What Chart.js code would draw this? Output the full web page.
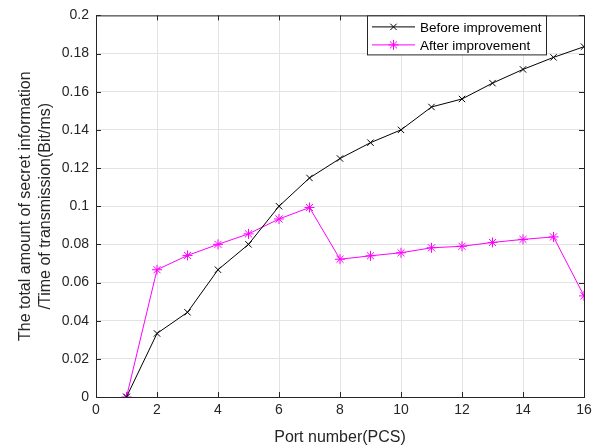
<!DOCTYPE html>
<html lang="en">
<head>
  <meta charset="UTF-8" />
  <title>Secret information rate vs port number</title>
  <script src="https://cdn.jsdelivr.net/npm/chart.js"></script>
  <style>
    * { box-sizing: border-box; }
    html, body { margin: 0; padding: 0; background: #fff; }
    #wrap { width: 599px; height: 447px; }
  </style>
</head>
<body>
  <div id="wrap">
    <canvas id="rateChart" width="599" height="447"></canvas>
  </div>

  <script>
    const ports = [1, 2, 3, 4, 5, 6, 7, 8, 9, 10, 11, 12, 13, 14, 15, 16];
    const beforeImprovement = [0, 0.0333, 0.0444, 0.0667, 0.08, 0.1, 0.1148, 0.125, 0.1333, 0.14, 0.152, 0.1562, 0.1645, 0.1717, 0.178, 0.1836];
    const afterImprovement = [0, 0.0667, 0.0742, 0.08, 0.0855, 0.0933, 0.0993, 0.0722, 0.074, 0.0756, 0.0782, 0.079, 0.081, 0.0826, 0.0839, 0.053];
    const xTicks = [0, 2, 4, 6, 8, 10, 12, 14, 16];
    const yTicks = [0, 0.02, 0.04, 0.06, 0.08, 0.1, 0.12, 0.14, 0.16, 0.18, 0.2];

    const axisColor = "#262626";
    const fontFamily = "Arial, 'Liberation Sans', Helvetica, sans-serif";

    // axis box with inward tick marks on every side, plus the legend box
    const boxPlugin = {
      id: "boxPlugin",
      afterDraw(chart) {
        const { ctx, chartArea: a, scales } = chart;
        ctx.save();
        ctx.strokeStyle = axisColor;
        ctx.lineWidth = 1;
        ctx.strokeRect(a.left + 0.5, a.top + 0.5, a.right - a.left, a.bottom - a.top);
        const len = 5;
        ctx.beginPath();
        xTicks.forEach(v => {
          const x = Math.round(scales.x.getPixelForValue(v)) + 0.5;
          ctx.moveTo(x, a.bottom); ctx.lineTo(x, a.bottom - len);
          ctx.moveTo(x, a.top); ctx.lineTo(x, a.top + len);
        });
        yTicks.forEach(v => {
          const y = Math.round(scales.y.getPixelForValue(v)) + 0.5;
          ctx.moveTo(a.left, y); ctx.lineTo(a.left + len, y);
          ctx.moveTo(a.right, y); ctx.lineTo(a.right - len, y);
        });
        ctx.stroke();

        // legend
        const lx = 367, ly = a.top + 0.5, lw = 179, lh = 39;
        ctx.fillStyle = "#fff";
        ctx.fillRect(lx, ly, lw, lh);
        ctx.strokeStyle = axisColor;
        ctx.strokeRect(lx + 0.5, ly, lw, lh);
        ctx.font = "13.5px " + fontFamily;
        ctx.textBaseline = "middle";
        chart.data.datasets.forEach((ds, i) => {
          const y = ly + 11 + i * 18;
          ctx.strokeStyle = ds.borderColor;
          ctx.fillStyle = ds.borderColor;
          ctx.beginPath();
          ctx.moveTo(372, y); ctx.lineTo(415, y);
          ctx.stroke();
          Chart.helpers.drawPoint(ctx, {
            pointStyle: ds.pointStyle, radius: ds.pointRadius,
            rotation: ds.pointRotation || 0, borderWidth: 1
          }, 393.5, y);
          ctx.fillStyle = "#000";
          ctx.fillText(ds.label, 420, y + 1);
        });
        ctx.restore();
      }
    };

    new Chart(document.getElementById("rateChart"), {
      type: "line",
      data: {
        labels: ports,
        datasets: [
          {
            label: "Before improvement",
            data: ports.map((p, i) => ({ x: p, y: beforeImprovement[i] })),
            borderColor: "#000000",
            backgroundColor: "#000000",
            borderWidth: 1,
            pointStyle: "cross",
            pointRotation: 45,
            pointRadius: 4.5,
            pointBorderWidth: 1,
            tension: 0
          },
          {
            label: "After improvement",
            data: ports.map((p, i) => ({ x: p, y: afterImprovement[i] })),
            borderColor: "#ff00ff",
            backgroundColor: "#ff00ff",
            borderWidth: 1,
            pointStyle: "star",
            pointRadius: 5,
            pointBorderWidth: 1,
            tension: 0
          }
        ]
      },
      options: {
        responsive: false,
        animation: false,
        events: [],
        layout: { padding: { top: 13, right: 15, left: 16, bottom: 0 } },
        plugins: {
          legend: { display: false },
          tooltip: { enabled: false }
        },
        scales: {
          x: {
            type: "linear",
            min: 0,
            max: 16,
            afterBuildTicks: s => { s.ticks = xTicks.map(v => ({ value: v })); },
            afterFit: s => { s.height = 50; },
            grid: { color: "#e3e3e3", drawTicks: false },
            border: { display: false },
            ticks: {
              color: axisColor,
              padding: 5,
              font: { family: fontFamily, size: 14 },
              maxRotation: 0
            },
            title: {
              display: true,
              text: "Port number(PCS)",
              color: axisColor,
              font: { family: fontFamily, size: 16 },
              padding: { top: 0, bottom: 0 }
            }
          },
          y: {
            min: 0,
            max: 0.2,
            afterBuildTicks: s => { s.ticks = yTicks.map(v => ({ value: v })); },
            afterFit: s => { s.width = 80; },
            grid: { color: "#e3e3e3", drawTicks: false },
            border: { display: false },
            ticks: {
              color: axisColor,
              padding: 7,
              font: { family: fontFamily, size: 14 },
              callback: v => String(+v.toFixed(2))
            },
            title: {
              display: true,
              text: ["The total amount of secret information", "/Time of transmission(Bit/ms)"],
              color: axisColor,
              font: { family: fontFamily, size: 16, lineHeight: 1.25 },
              padding: { top: 0, bottom: 0 }
            }
          }
        }
      },
      plugins: [boxPlugin]
    });
  </script>
</body>
</html>
